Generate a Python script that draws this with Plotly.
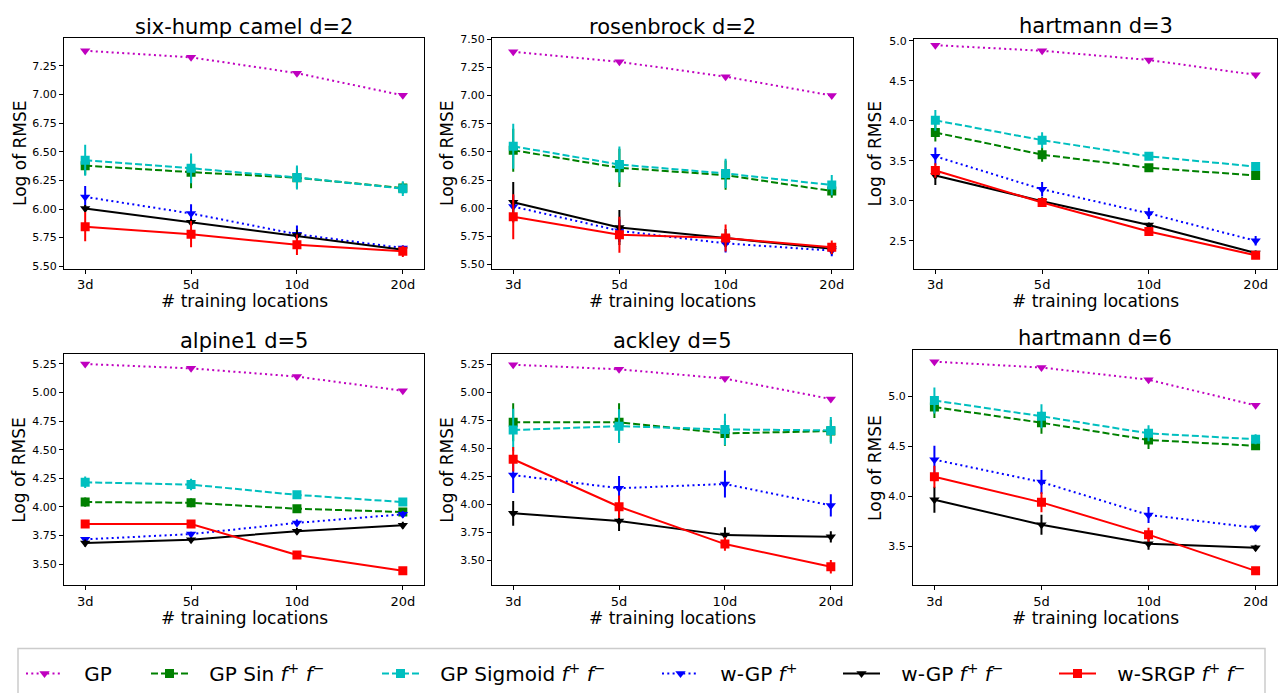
import plotly.graph_objects as go

W, H = 1283, 693

categories = ["3d", "5d", "10d", "20d"]
panel_titles = ["six-hump camel d=2", "rosenbrock d=2", "hartmann d=3",
                "alpine1 d=5", "ackley d=5", "hartmann d=6"]
PAD = "\u2002\u00a0"
method_names = [
    PAD + "GP",
    PAD + "GP Sin <i>f</i><sup>+</sup> <i>f</i><sup>−</sup>",
    PAD + "GP Sigmoid <i>f</i><sup>+</sup> <i>f</i><sup>−</sup>",
    PAD + "w-GP <i>f</i><sup>+</sup>",
    PAD + "w-GP <i>f</i><sup>+</sup> <i>f</i><sup>−</sup>",
    PAD + "w-SRGP <i>f</i><sup>+</sup> <i>f</i><sup>−</sup>",
]

# means per method (GP, GP Sin, GP Sigmoid, w-GP f+, w-GP f+f-, w-SRGP f+f-)
camel_mean = [
    [7.383, 7.325, 7.187, 6.993],
    [6.379, 6.322, 6.273, 6.183],
    [6.426, 6.356, 6.276, 6.178],
    [6.106, 5.961, 5.780, 5.659],
    [6.005, 5.884, 5.768, 5.644],
    [5.846, 5.780, 5.688, 5.630],
]
camel_err = [
    [0.01, 0.01, 0.01, 0.01],
    [0.08, 0.14, 0.09, 0.05],
    [0.135, 0.13, 0.105, 0.065],
    [0.095, 0.08, 0.076, 0.025],
    [0.03, 0.03, 0.05, 0.02],
    [0.127, 0.115, 0.09, 0.05],
]
rosen_mean = [
    [7.388, 7.300, 7.168, 7.000],
    [6.515, 6.359, 6.294, 6.153],
    [6.550, 6.388, 6.309, 6.206],
    [6.015, 5.800, 5.688, 5.624],
    [6.053, 5.829, 5.735, 5.641],
    [5.924, 5.765, 5.735, 5.653],
]
rosen_err = [
    [0.01, 0.01, 0.01, 0.01],
    [0.19, 0.17, 0.13, 0.06],
    [0.20, 0.16, 0.13, 0.09],
    [0.10, 0.10, 0.08, 0.05],
    [0.18, 0.155, 0.08, 0.05],
    [0.20, 0.16, 0.12, 0.06],
]
hart3_mean = [
    [4.946, 4.876, 4.761, 4.575],
    [3.853, 3.577, 3.412, 3.317],
    [4.006, 3.758, 3.556, 3.428],
    [3.556, 3.144, 2.842, 2.500],
    [3.317, 2.995, 2.698, 2.347],
    [3.379, 2.979, 2.616, 2.318],
]
hart3_err = [
    [0.02, 0.02, 0.02, 0.02],
    [0.11, 0.09, 0.03, 0.03],
    [0.13, 0.10, 0.04, 0.03],
    [0.11, 0.09, 0.07, 0.06],
    [0.12, 0.05, 0.03, 0.03],
    [0.09, 0.04, 0.04, 0.03],
]
alpine_mean = [
    [5.250, 5.212, 5.140, 5.016],
    [4.043, 4.037, 3.985, 3.956],
    [4.216, 4.196, 4.106, 4.043],
    [3.717, 3.763, 3.861, 3.936],
    [3.685, 3.714, 3.789, 3.841],
    [3.852, 3.852, 3.581, 3.442],
]
alpine_err = [
    [0.01, 0.01, 0.01, 0.01],
    [0.04, 0.04, 0.02, 0.02],
    [0.05, 0.05, 0.02, 0.02],
    [0.02, 0.02, 0.03, 0.03],
    [0.03, 0.02, 0.03, 0.03],
    [0.03, 0.03, 0.02, 0.02],
]
ackley_mean = [
    [5.244, 5.203, 5.120, 4.938],
    [4.731, 4.731, 4.631, 4.652],
    [4.661, 4.696, 4.667, 4.658],
    [4.260, 4.142, 4.180, 3.989],
    [3.918, 3.850, 3.724, 3.709],
    [4.401, 3.977, 3.644, 3.441],
]
ackley_err = [
    [0.01, 0.01, 0.01, 0.01],
    [0.17, 0.17, 0.11, 0.10],
    [0.19, 0.15, 0.14, 0.12],
    [0.16, 0.11, 0.12, 0.10],
    [0.11, 0.09, 0.07, 0.05],
    [0.11, 0.10, 0.06, 0.06],
]
hart6_mean = [
    [5.345, 5.286, 5.164, 4.908],
    [4.891, 4.734, 4.562, 4.503],
    [4.957, 4.799, 4.628, 4.569],
    [4.365, 4.141, 3.812, 3.684],
    [3.964, 3.714, 3.523, 3.484],
    [4.194, 3.938, 3.615, 3.253],
]
hart6_err = [
    [0.01, 0.01, 0.01, 0.01],
    [0.11, 0.11, 0.09, 0.04],
    [0.13, 0.12, 0.08, 0.05],
    [0.14, 0.12, 0.08, 0.03],
    [0.13, 0.10, 0.06, 0.03],
    [0.11, 0.10, 0.07, 0.02],
]

panel_means = [camel_mean, rosen_mean, hart3_mean, alpine_mean, ackley_mean, hart6_mean]
panel_errs = [camel_err, rosen_err, hart3_err, alpine_err, ackley_err, hart6_err]

y_ranges = [[5.48, 7.498], [5.465, 7.515], [2.153, 5.029],
            [3.315, 5.334], [3.276, 5.336], [3.108, 5.457]]
y_ticks = [
    [5.50, 5.75, 6.00, 6.25, 6.50, 6.75, 7.00, 7.25],
    [5.50, 5.75, 6.00, 6.25, 6.50, 6.75, 7.00, 7.25, 7.50],
    [2.5, 3.0, 3.5, 4.0, 4.5, 5.0],
    [3.50, 3.75, 4.00, 4.25, 4.50, 4.75, 5.00, 5.25],
    [3.50, 3.75, 4.00, 4.25, 4.50, 4.75, 5.00, 5.25],
    [3.5, 4.0, 4.5, 5.0],
]
y_fmt = [".2f", ".2f", ".1f", ".2f", ".2f", ".1f"]

# styles
colors = ["#bf00bf", "#008000", "#00bfbf", "#0000ff", "#000000", "#ff0000"]
symbols = ["triangle-down", "square", "square", "triangle-down", "triangle-down", "square"]
dashes = ["2px,3.3px", "7px,3px", "7px,3px", "2px,3.3px", "solid", "solid"]

# panel pixel boxes: left, right, top, bottom
boxes = [
    (64, 424, 34, 268), (492, 853, 34, 268), (914, 1277, 35, 268),
    (64, 424, 355, 589), (492, 852, 355, 589), (913, 1277, 351, 589),
]
title_cy = [23, 23, 22, 341, 341, 338]
ylab_x = [20, 447, 875, 19, 447, 875]
legend_text_x = [84, 209, 440, 720, 901, 1117]

FONT = "DejaVu Sans"
ITEMW = 37

fig = go.Figure()
layout = dict(
    width=W, height=H, margin=dict(l=0, r=0, t=0, b=0),
    paper_bgcolor="white", plot_bgcolor="white",
    font=dict(family=FONT, color="black"),
)
annotations = []

for p in range(6):
    sfx = "" if p == 0 else str(p + 1)
    l, r, t, b = boxes[p]
    layout["xaxis" + sfx] = dict(
        domain=[l / W, r / W], anchor="y" + sfx, type="category",
        categoryorder="array", categoryarray=categories,
        range=[-0.2, 3.2], showline=True, mirror=True, linecolor="black",
        linewidth=1, ticks="outside", ticklen=4, tickcolor="black",
        showgrid=False, zeroline=False, tickfont=dict(size=13, family=FONT),
    )
    layout["yaxis" + sfx] = dict(
        domain=[1 - b / H, 1 - t / H], anchor="x" + sfx, range=y_ranges[p],
        tickvals=y_ticks[p], tickformat=y_fmt[p], showline=True, mirror=True,
        linecolor="black", linewidth=1, ticks="outside", ticklen=4,
        tickcolor="black", showgrid=False, zeroline=False,
        tickfont=dict(size=11, family=FONT),
    )
    for m in range(6):
        fig.add_trace(go.Scatter(
            x=categories, y=panel_means[p][m],
            error_y=dict(type="data", array=panel_errs[p][m], visible=True,
                         color=colors[m], thickness=2, width=0),
            mode="lines+markers", name=method_names[m],
            line=dict(color=colors[m], width=2, dash=dashes[m]),
            marker=dict(symbol=symbols[m], size=9, color=colors[m]),
            legendgroup=str(m), showlegend=(p == 0),
            legend="legend" if m == 0 else "legend" + str(m + 1),
            xaxis="x" + sfx, yaxis="y" + sfx,
        ))
    cx = (l + r) / 2
    annotations.append(dict(
        text=panel_titles[p], x=cx / W, y=1 - title_cy[p] / H, xref="paper", yref="paper",
        xanchor="center", yanchor="middle", showarrow=False,
        font=dict(size=21, family=FONT, color="black"),
    ))
    annotations.append(dict(
        text="# training locations", x=cx / W, y=1 - (b + 33) / H, xref="paper",
        yref="paper", xanchor="center", yanchor="middle", showarrow=False,
        font=dict(size=17, family=FONT, color="black"),
    ))
    annotations.append(dict(
        text="Log of RMSE", x=ylab_x[p] / W, y=1 - ((t + b) / 2) / H, xref="paper",
        yref="paper", xanchor="center", yanchor="middle", textangle=-90,
        showarrow=False, font=dict(size=17, family=FONT, color="black"),
    ))

layout["annotations"] = annotations

for m in range(6):
    key = "legend" if m == 0 else "legend" + str(m + 1)
    layout[key] = dict(
        orientation="h", x=(legend_text_x[m] - 63) / W, y=1 - 659 / H,
        xanchor="left", yanchor="top", bgcolor="rgba(0,0,0,0)", borderwidth=0,
        font=dict(size=20, family=FONT, color="black"), itemwidth=ITEMW,
    )

layout["shapes"] = [dict(
    type="rect", xref="paper", yref="paper", x0=18 / W, x1=1265 / W,
    y0=1 - 705 / H, y1=1 - 653 / H, line=dict(color="#cccccc", width=1.5),
    fillcolor="rgba(0,0,0,0)", layer="below",
)]

fig.update_layout(**layout)
fig.write_html("out.html", config={"displayModeBar": False},
               post_script="document.body.style.margin='0px';")
